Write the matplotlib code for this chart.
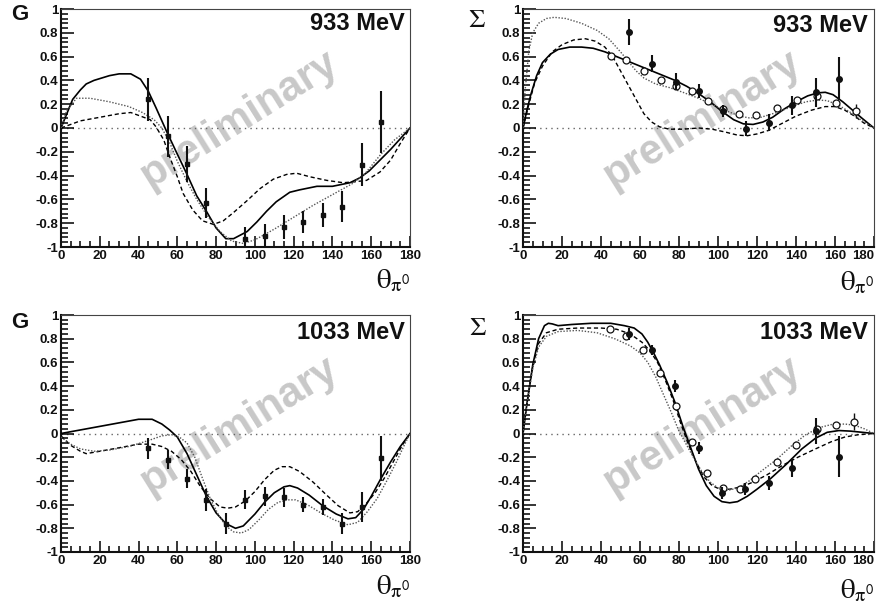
import matplotlib
matplotlib.use("Agg")
import matplotlib.pyplot as plt
from matplotlib.ticker import MultipleLocator

plt.rcParams['font.family'] = ['Liberation Sans', 'DejaVu Sans']
plt.rcParams['mathtext.fontset'] = 'stix'

# ---------------- data ----------------
# G, 933 MeV
g933_x = [45, 55, 65, 75, 95, 105, 115, 125, 135, 145, 155, 165]
g933_y = [0.24, -0.07, -0.30, -0.63, -0.93, -0.91, -0.83, -0.79, -0.73, -0.66, -0.31, 0.05]
g933_e = [0.18, 0.17, 0.15, 0.13, 0.10, 0.10, 0.10, 0.09, 0.10, 0.13, 0.18, 0.26]

g933_sol_x = [0, 3, 6, 10, 13, 17, 25, 30, 36, 41, 45, 49, 54.5, 60, 65, 70, 75, 80, 85, 89,
              96, 101, 106, 111, 118, 123, 132, 140, 149, 154, 159, 164.5, 170, 175, 180]
g933_sol_y = [0, 0.12, 0.24, 0.32, 0.37, 0.40, 0.44, 0.455, 0.455, 0.41, 0.31, 0.17, -0.03,
              -0.22, -0.39, -0.57, -0.70, -0.84, -0.93, -0.93, -0.87, -0.79, -0.70, -0.62,
              -0.54, -0.52, -0.49, -0.49, -0.46, -0.42, -0.36, -0.27, -0.18, -0.09, 0]
g933_das_x = [0, 10, 20, 30, 36, 41, 46, 49, 53, 56, 60, 63, 68, 73, 78.6, 83.7, 89, 96,
              102.6, 109.5, 116.4, 121.5, 128.4, 137, 145.6, 152.5, 157.6, 164.5, 170, 175, 180]
g933_das_y = [0, 0.06, 0.09, 0.12, 0.13, 0.10, 0.07, 0.01, -0.10, -0.24, -0.41, -0.55, -0.69,
              -0.78, -0.81, -0.78, -0.71, -0.61, -0.51, -0.43, -0.39, -0.38, -0.41, -0.44,
              -0.46, -0.45, -0.44, -0.37, -0.27, -0.13, 0]
g933_dot_x = [0, 3, 8, 15, 25, 35, 42, 48, 52, 56, 60, 65, 70, 76, 82, 88, 94, 100, 110,
              120, 130, 140, 150, 157, 165, 172, 180]
g933_dot_y = [0, 0.15, 0.25, 0.25, 0.22, 0.18, 0.13, 0.07, 0.0, -0.12, -0.28, -0.45, -0.60,
              -0.75, -0.87, -0.95, -0.97, -0.94, -0.85, -0.75, -0.65, -0.56, -0.47, -0.38,
              -0.22, -0.10, 0]

# Sigma, 933 MeV
s933_x = [54.3, 66.2, 78.3, 90.3, 102.4, 114.3, 126.3, 138.2, 150.2, 162.1]
s933_y = [0.81, 0.54, 0.39, 0.31, 0.14, -0.005, 0.045, 0.19, 0.30, 0.415]
s933_e = [0.11, 0.07, 0.07, 0.06, 0.05, 0.06, 0.07, 0.08, 0.12, 0.18]
s933o_x = [44.9, 52.6, 61.8, 70.6, 78.7, 86.9, 94.7, 102.6, 110.8, 119.6, 130.5, 140.4,
           150.7, 160.6, 170.6]
s933o_y = [0.607, 0.57, 0.48, 0.40, 0.35, 0.31, 0.23, 0.16, 0.115, 0.107, 0.17, 0.236,
           0.27, 0.21, 0.14]
s933o_e = [0.01, 0.01, 0.01, 0.01, 0.01, 0.01, 0.01, 0.01, 0.01, 0.01, 0.01, 0.02,
           0.02, 0.02, 0.06]

s933_sol_x = [0, 2, 4, 7, 10, 14, 18, 24, 30, 36, 42, 48, 54, 60, 66, 72, 78, 84, 90, 96,
              102, 108, 113, 118, 123, 128, 134, 140, 146, 151, 155, 159, 164, 169, 174, 180]
s933_sol_y = [0, 0.15, 0.28, 0.44, 0.55, 0.62, 0.66, 0.68, 0.68, 0.67, 0.64, 0.60, 0.56,
              0.52, 0.48, 0.44, 0.40, 0.35, 0.29, 0.22, 0.14, 0.07, 0.035, 0.03, 0.05, 0.09,
              0.16, 0.22, 0.27, 0.295, 0.30, 0.28, 0.22, 0.15, 0.08, 0]
s933_das_x = [0, 3, 6, 10, 15, 20, 26, 32, 37, 42, 46, 50, 54, 58, 62, 66, 70, 75, 82, 90,
              97, 104, 110, 115, 120, 126, 133, 140, 148, 155, 160, 165, 170, 175, 180]
s933_das_y = [0, 0.20, 0.38, 0.52, 0.64, 0.70, 0.74, 0.75, 0.73, 0.68, 0.60, 0.48, 0.36,
              0.24, 0.12, 0.05, 0.01, -0.01, -0.01, 0.0, -0.01, -0.035, -0.06, -0.065,
              -0.05, -0.02, 0.04, 0.10, 0.15, 0.18, 0.18, 0.15, 0.10, 0.04, 0]
s933_dot_x = [0, 1, 3, 5, 8, 12, 16, 22, 30, 38, 44, 50, 54, 58, 62, 68, 75, 82, 90, 98,
              105, 111, 116, 122, 130, 138, 145, 151, 156, 162, 168, 174, 180]
s933_dot_y = [0, 0.30, 0.65, 0.80, 0.88, 0.92, 0.93, 0.92, 0.88, 0.82, 0.75, 0.64, 0.56,
              0.48, 0.42, 0.37, 0.34, 0.30, 0.25, 0.19, 0.14, 0.10, 0.085, 0.09, 0.13,
              0.18, 0.22, 0.235, 0.23, 0.19, 0.13, 0.06, 0]

# G, 1033 MeV
g1033_x = [45, 55, 65, 75, 85, 95, 105, 115, 125, 135, 145, 155, 165]
g1033_y = [-0.125, -0.22, -0.38, -0.56, -0.76, -0.56, -0.53, -0.54, -0.60, -0.62, -0.76,
           -0.62, -0.21]
g1033_e = [0.09, 0.08, 0.08, 0.09, 0.09, 0.08, 0.08, 0.08, 0.06, 0.07, 0.09, 0.13, 0.19]

g1033_sol_x = [0, 10, 20, 30, 40, 47, 52, 56, 60, 65, 70, 75, 80, 85, 90, 94, 100, 105,
               110, 115, 118, 122, 128, 135, 142, 148, 152, 156, 160, 165, 170, 175, 180]
g1033_sol_y = [0, 0.03, 0.06, 0.09, 0.12, 0.12, 0.08, 0.03, -0.03, -0.17, -0.35, -0.53,
               -0.67, -0.76, -0.80, -0.78, -0.68, -0.58, -0.50, -0.45, -0.44, -0.46, -0.52,
               -0.61, -0.68, -0.72, -0.71, -0.64, -0.53, -0.38, -0.24, -0.11, 0]
g1033_das_x = [0, 5, 10, 13, 20, 30, 40, 47, 52, 57, 62, 67, 72, 77, 82, 86, 90, 95, 100,
               105, 110, 114, 118, 123, 130, 137, 143, 149, 153, 157, 162, 167, 172, 176, 180]
g1033_das_y = [-0.02, -0.10, -0.15, -0.17, -0.15, -0.12, -0.09, -0.09, -0.11, -0.15, -0.22,
               -0.32, -0.45, -0.55, -0.62, -0.63, -0.62, -0.57, -0.49, -0.39, -0.31, -0.28,
               -0.28, -0.32, -0.41, -0.52, -0.61, -0.67, -0.66, -0.60, -0.50, -0.37, -0.22,
               -0.10, 0]
g1033_dot_x = [0, 5, 10, 17, 25, 35, 45, 52, 57, 61, 65, 69, 73, 77, 81, 85, 89, 93, 97,
               102, 107, 112, 117, 121, 127, 134, 141, 148, 153, 158, 163, 168, 173, 177, 180]
g1033_dot_y = [-0.03, -0.09, -0.13, -0.15, -0.14, -0.11, -0.06, -0.02, -0.01, -0.03, -0.08,
               -0.20, -0.38, -0.55, -0.68, -0.78, -0.83, -0.84, -0.81, -0.73, -0.64, -0.58,
               -0.56, -0.56, -0.60, -0.67, -0.73, -0.77, -0.75, -0.66, -0.55, -0.40, -0.24,
               -0.10, 0]

# Sigma, 1033 MeV
s1033_x = [54.3, 66.2, 78.2, 90.0, 102.0, 113.9, 126.0, 138.0, 150.0, 161.9]
s1033_y = [0.84, 0.705, 0.40, -0.12, -0.50, -0.47, -0.42, -0.29, 0.02, -0.195]
s1033_e = [0.05, 0.04, 0.05, 0.05, 0.05, 0.05, 0.06, 0.08, 0.11, 0.17]
s1033o_x = [44.7, 52.6, 61.4, 70.3, 78.5, 86.5, 94.4, 102.4, 111.3, 119.1, 130.2, 140.1,
            150.7, 160.4, 169.5]
s1033o_y = [0.88, 0.82, 0.705, 0.51, 0.23, -0.07, -0.33, -0.46, -0.47, -0.385, -0.24,
            -0.10, 0.04, 0.075, 0.10]
s1033o_e = [0.01, 0.01, 0.01, 0.01, 0.01, 0.01, 0.01, 0.01, 0.01, 0.01, 0.01, 0.01,
            0.02, 0.02, 0.07]

s1033_sol_x = [0, 2, 5, 8, 11, 13, 15, 18, 25, 35, 45, 52, 57, 61, 64, 67, 70, 74, 78, 82,
               86, 90, 94, 98, 102, 106, 110, 115, 120, 127, 135, 143, 150, 156, 162, 168,
               174, 180]
s1033_sol_y = [0, 0.25, 0.58, 0.80, 0.91, 0.93, 0.925, 0.91, 0.92, 0.93, 0.93, 0.91, 0.89,
               0.84, 0.77, 0.68, 0.58, 0.43, 0.26, 0.06, -0.12, -0.30, -0.44, -0.53, -0.575,
               -0.585, -0.575, -0.53, -0.47, -0.38, -0.26, -0.13, -0.04, 0.01, 0.025, 0.02,
               0.01, 0]
s1033_das_x = [0, 2, 5, 8, 12, 18, 28, 40, 48, 55, 61, 65, 69, 73, 77, 81, 85, 89, 93, 97,
               101, 106, 112, 118, 125, 133, 141, 150, 158, 165, 172, 180]
s1033_das_y = [0, 0.25, 0.56, 0.76, 0.85, 0.88, 0.89, 0.89, 0.88, 0.84, 0.77, 0.70, 0.60,
               0.45, 0.28, 0.08, -0.10, -0.25, -0.37, -0.44, -0.47, -0.47, -0.45, -0.41,
               -0.35, -0.27, -0.20, -0.13, -0.07, -0.03, -0.01, 0]
s1033_dot_x = [0, 2, 5, 8, 12, 18, 28, 38, 47, 55, 60, 64, 68, 72, 76, 80, 84, 88, 92, 96,
               100, 105, 110, 116, 122, 130, 138, 145, 152, 158, 165, 170, 175, 180]
s1033_dot_y = [0, 0.25, 0.55, 0.73, 0.82, 0.86, 0.87, 0.85, 0.80, 0.74, 0.68, 0.60, 0.48,
               0.33, 0.18, 0.02, -0.10, -0.22, -0.33, -0.41, -0.46, -0.48, -0.46, -0.40,
               -0.32, -0.22, -0.10, -0.01, 0.05, 0.075, 0.08, 0.07, 0.04, 0]

# ---------------- figure ----------------
fig = plt.figure(figsize=(8.83, 6.07), dpi=100)
W, H = 883.0, 607.0


def make_axes(x0, x1, y0, y1):
    # pixel box -> figure fraction
    return fig.add_axes([x0 / W, 1 - y1 / H, (x1 - x0) / W, (y1 - y0) / H])


def style(ax, right_panel=False):
    ax.set_xlim(0, 180)
    ax.set_ylim(-1, 1)
    ax.set_xticks([0, 20, 40, 60, 80, 100, 120, 140, 160, 180])
    ax.set_xticklabels(['0', '20', '40', '60', '80', '100', '120', '140', '160', '180'])
    ax.xaxis.set_minor_locator(MultipleLocator(5))
    ax.yaxis.set_minor_locator(MultipleLocator(0.04))
    ax.tick_params(which='both', direction='in', top=False, right=False,
                   width=1.1, color='black')
    ax.tick_params(which='major', length=9, labelsize=9.5, pad=2)
    ax.tick_params(which='minor', length=5)
    ax.tick_params(axis='x', which='major', length=8)
    ax.tick_params(axis='x', which='minor', length=4)
    ax.set_yticks([-1, -0.8, -0.6, -0.4, -0.2, 0, 0.2, 0.4, 0.6, 0.8, 1])
    ax.set_yticklabels(['-1', '-0.8', '-0.6', '-0.4', '-0.2', '0', '0.2', '0.4', '0.6',
                        '0.8', '1'])
    for lab in ax.get_xticklabels() + ax.get_yticklabels():
        lab.set_fontweight('bold')
        lab.set_color('#111111')
    if right_panel:
        # last label sits flush against the canvas edge
        ax.get_xticklabels()[-1].set_horizontalalignment('right')
    for side in ['left', 'bottom']:
        ax.spines[side].set_linewidth(1.5)
        ax.spines[side].set_color('#111111')
    for side in ['top', 'right']:
        ax.spines[side].set_linewidth(0.8)
        ax.spines[side].set_color('#444444')
    ax.axhline(0, color='#666666', lw=1.0, ls=(0, (1, 3)), zorder=1)
    ax.text(0.51, 0.535, 'preliminary', transform=ax.transAxes, rotation=32,
            fontsize=30, fontweight='bold', color='#c8c8c8', ha='center',
            va='center', zorder=0)


def curves(ax, sx, sy, dx, dy, ox, oy):
    ax.plot(sx, sy, color='black', lw=1.2, zorder=3)
    ax.plot(dx, dy, color='black', lw=1.0, ls=(0, (3, 2)), zorder=3)
    ax.plot(ox, oy, color='#555555', lw=1.0, ls=(0, (1, 1.2)), zorder=3)


panels = [
    (61, 410, 9, 247), (523, 874, 9, 247),
    (61, 410, 315, 552), (523, 874, 315, 552),
]

# G 933
ax = make_axes(*panels[0])
style(ax)
curves(ax, g933_sol_x, g933_sol_y, g933_das_x, g933_das_y, g933_dot_x, g933_dot_y)
ax.errorbar(g933_x, g933_y, yerr=g933_e, fmt='s', ms=3, color='#111111', elinewidth=1.5,
            capsize=0, zorder=4)
ax.text(0.985, 0.94, '933 MeV', transform=ax.transAxes, ha='right', va='center',
        fontsize=17, fontweight='bold', color='#111111')

# Sigma 933
ax = make_axes(*panels[1])
style(ax, right_panel=True)
curves(ax, s933_sol_x, s933_sol_y, s933_das_x, s933_das_y, s933_dot_x, s933_dot_y)
ax.errorbar(s933o_x, s933o_y, yerr=s933o_e, fmt='o', ms=5, mfc='white', mec='#111111',
            mew=0.9, color='#111111', elinewidth=1.0, capsize=0, zorder=4)
ax.errorbar(s933_x, s933_y, yerr=s933_e, fmt='o', ms=4, color='#111111', elinewidth=1.5,
            capsize=0, zorder=5)
ax.text(0.983, 0.93, '933 MeV', transform=ax.transAxes, ha='right', va='center',
        fontsize=17, fontweight='bold', color='#111111')

# G 1033
ax = make_axes(*panels[2])
style(ax)
curves(ax, g1033_sol_x, g1033_sol_y, g1033_das_x, g1033_das_y, g1033_dot_x, g1033_dot_y)
ax.errorbar(g1033_x, g1033_y, yerr=g1033_e, fmt='s', ms=3, color='#111111',
            elinewidth=1.5, capsize=0, zorder=4)
ax.text(0.985, 0.925, '1033 MeV', transform=ax.transAxes, ha='right', va='center',
        fontsize=17, fontweight='bold', color='#111111')

# Sigma 1033
ax = make_axes(*panels[3])
style(ax, right_panel=True)
curves(ax, s1033_sol_x, s1033_sol_y, s1033_das_x, s1033_das_y, s1033_dot_x, s1033_dot_y)
ax.errorbar(s1033o_x, s1033o_y, yerr=s1033o_e, fmt='o', ms=5, mfc='white',
            mec='#111111', mew=0.9, color='#111111', elinewidth=1.0, capsize=0, zorder=4)
ax.errorbar(s1033_x, s1033_y, yerr=s1033_e, fmt='o', ms=4, color='#111111',
            elinewidth=1.5, capsize=0, zorder=5)
ax.text(0.983, 0.925, '1033 MeV', transform=ax.transAxes, ha='right', va='center',
        fontsize=17, fontweight='bold', color='#111111')

# panel labels
fig.text(20 / W, 1 - 15 / H, 'G', ha='center', va='center', fontsize=16,
         fontweight='bold', color='#111111')
fig.text(20 / W, 1 - 322 / H, 'G', ha='center', va='center', fontsize=16,
         fontweight='bold', color='#111111')
fig.text(477 / W, 1 - 20 / H, r'$\Sigma$', ha='center', va='center', fontsize=19,
         color='#111111')
fig.text(478 / W, 1 - 328 / H, r'$\Sigma$', ha='center', va='center', fontsize=19,
         color='#111111')

# axis titles
for xr, yc in [(410, 280), (874, 282), (410, 586), (874, 590)]:
    fig.text(xr / W, 1 - yc / H, r'$\mathrm{\theta}_{\mathrm{\pi}^{\mathsf{0}}}$',
             ha='right', va='center', fontsize=21, color='#111111')

fig.savefig('out.png', dpi=100)
